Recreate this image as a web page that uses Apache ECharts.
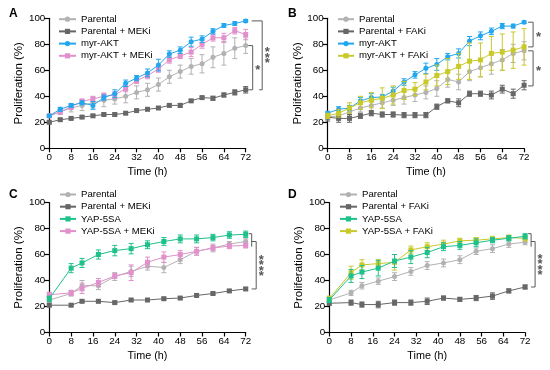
<!DOCTYPE html>
<html><head><meta charset="utf-8">
<script src="https://cdn.jsdelivr.net/npm/echarts@6/dist/echarts.min.js"></script>
<style>html,body{margin:0;padding:0;background:#fff}#c{width:550px;height:370px}</style>
</head><body><div id="c"></div>
<script>
// ---------- data ----------
const timeAB = [0,4,8,12,16,20,24,28,32,36,40,44,48,52,56,60,64,68,72];
const timeCD = [0,8,12,18,24,30,36,42,48,54,60,66,72];
const xTicks = [0,8,16,24,32,40,48,56,64,72];
const yTicks = [0,20,40,60,80,100];

// Panel A
const aParental        = [25,28,31,33,35,37,38,40,43,45,49,55,59,63,65,70,73,77,79];
const aParentalErr     = [1,2,3,4,4,5,4,5,5,5,5,5,5,6,7,8,9,8,6];
const aParentalMEKi    = [20,22,23,24,25,26,26,27,29,30,31,33,33,36.5,39,38.5,41,43,45];
const aParentalMEKiErr = [1,1,1,1,1,1,1,1,1,1,1,1,1.5,1,1,1.5,1.5,2,2.5];
const aMyrAKT          = [25,30,33,35,33,39,42,50,54,58,64,72.5,75.5,82,84,90,94.5,96,98];
const aMyrAKTErr       = [1,1.5,1.5,1.5,3,2,3,2.5,2,3,4.5,2.5,2.5,3.5,2.5,2,1.5,1.5,1];
const aMyrAKTMEKi      = [25,28,32,36,38,40,41,46,52,56,61,68,71,74,80,85,85,90.5,87.5];
const aMyrAKTMEKiErr   = [1,1.5,2,2,2,2.5,2.5,2.5,2,2.5,2.5,2.5,2,3.5,3,2.5,3.5,2.5,4];

// Panel B
const bParental        = [24,25,28,31,33,35,37,39,41,43,46,53,51,59,62,65,68,73,75];
const bParentalErr     = [1.5,2,3,3,4,4,4,5,5,5,6,6,6,7,7,8,8,7,7];
const bParentalFAKi    = [24,23,23,25,27,26,26,25.5,25.5,25.5,32,36.5,35,42,42,41,45.5,42,48.5];
const bParentalFAKiErr = [3,3,3,2,2,2,2,2,2,2,2,1.5,3,2,2,3,3,3.5,3.5];
const bMyrAKT          = [27,30,31,36.5,39,39.5,44,51,56.5,61.5,64.5,70.5,73,82.5,86.5,90,94,94,97];
const bMyrAKTErr       = [1.5,2,2,2.5,3,2,3,2.5,2.5,4,4.5,2.5,3.5,3.5,3,2.5,2,1.5,1];
const bMyrAKTFAKi      = [25,27,31,35,37,38.5,41,44.5,45.5,51,56,59,63,67,68,73,74,75.5,78];
const bMyrAKTFAKiErr   = [2,3,4,5,6,8,7,7,5,6,8,10,10,14,13,13,14,14,14];

// Panel C
const cParental        = [25,30,36,36,43,47,51,50,56,62.5,65,68,70];
const cParentalErr     = [2,2,4,3,3,4,3,4,3,3,3,2,2];
const cParentalMEKi    = [21,21,24,24,23,25,25,26,26.5,28.5,30,32,33.5];
const cParentalMEKiErr = [1,1,1,1,1,1,1,1,1,1,1,1,1];
const cYAP             = [26,49.5,53.5,60,63,64.5,67.5,70,72,72,73,75,75.5];
const cYAPErr          = [2,3.5,3.5,3.5,4,4,3,3,3,3,2.5,2.5,2.5];
const cYAPMEKi         = [29,30.5,34,38.5,43.5,46,54,58,60,62.5,65,66.5,67];
const cYAPMEKiErr      = [2,2,4,3,2,6,4,4,3,3,2,2,2];

// Panel D
const dParental        = [25,30.5,36,39.5,43,47,51.5,53.5,56,62.5,64.5,68,69.5];
const dParentalErr     = [1,2,2.5,2.5,3,3,3,3,3,2.5,3,2.5,2];
const dParentalFAKi    = [22.5,23,21.5,21.5,23,23,24,26.5,25.5,26.5,28,32,35];
const dParentalFAKiErr = [1.5,2,2,2.5,2,2,2.5,1.5,1.5,2,2.5,1.5,1.5];
const dYAP             = [25,43.5,46.5,49.5,55,58,61.5,66,67,69,71,72.5,74];
const dYAPErr          = [2,5,5,6,5,5,4,3,3,3,2,2,2];
const dYAPFAKi         = [26,46,52,53,54,63.5,66,68,70.5,71,72,73,72.5];
const dYAPFAKiErr      = [2,5,4,3,6,3,3,3,2,2,2,2,2];

// significance brackets: [top value, bottom value, label]
const bracketsA = [[79,45,'*'],[98,45,'***']];
const bracketsB = [[97,78,'*'],[75,48,'*']];
const bracketsC = [[76,66,''],[70,33.5,'****']];
const bracketsD = [[76,66,''],[70,35,'****']];

// ---------- styling ----------
const FONT = 'Liberation Sans, Arial, Helvetica, sans-serif';
const COL = {lg:'#b2b2b2', dg:'#676767', blue:'#22a7ee', pink:'#e190cb', green:'#1ec08c', yellow:'#c9c92c'};

const grids = [
  {left:49.3, top:18.3, width:196.4, height:130},
  {left:327.7, top:18.3, width:196.4, height:130},
  {left:49.3, top:202.5, width:196.4, height:130},
  {left:329.3, top:202.5, width:195.8, height:130}
];

const panels = [
  {times: timeAB, brackets: bracketsA,
   bl: [{dx:7, st:4.5, sb:4.5, tdx:5}, {dx:16.5, st:10.5, sb:3, tdx:5}],
   legend: {left:58, top:14.2, itemWidth:17},
   series: [
    {name:'Parental', v:aParental, e:aParentalErr, c:COL.lg, s:'circle'},
    {name:'Parental + MEKi', v:aParentalMEKi, e:aParentalMEKiErr, c:COL.dg, s:'rect'},
    {name:'myr-AKT + MEKi', v:aMyrAKTMEKi, e:aMyrAKTMEKiErr, c:COL.pink, s:'rect'},
    {name:'myr-AKT', v:aMyrAKT, e:aMyrAKTErr, c:COL.blue, s:'circle'}
   ],
   order:['Parental','Parental + MEKi','myr-AKT','myr-AKT + MEKi']},
  {times: timeAB, brackets: bracketsB,
   bl: [{dx:9, st:5, sb:5, tdx:5.5}, {dx:9, st:5, sb:5, tdx:5.5}],
   legend: {left:337, top:14.2, itemWidth:16},
   series: [
    {name:'Parental', v:bParental, e:bParentalErr, c:COL.lg, s:'circle'},
    {name:'Parental + FAKi', v:bParentalFAKi, e:bParentalFAKiErr, c:COL.dg, s:'rect'},
    {name:'myr-AKT', v:bMyrAKT, e:bMyrAKTErr, c:COL.blue, s:'circle'},
    {name:'myr-AKT + FAKi', v:bMyrAKTFAKi, e:bMyrAKTFAKiErr, c:COL.yellow, s:'rect'}
   ],
   order:['Parental','Parental + FAKi','myr-AKT','myr-AKT + FAKi']},
  {times: timeCD, brackets: bracketsC,
   bl: [{dx:6, st:3, sb:0, tdx:0}, {dx:10.5, st:4.5, sb:4.5, tdx:5}],
   legend: {left:59, top:189.5, itemWidth:16},
   series: [
    {name:'Parental', v:cParental, e:cParentalErr, c:COL.lg, s:'circle'},
    {name:'Parental + MEKi', v:cParentalMEKi, e:cParentalMEKiErr, c:COL.dg, s:'rect'},
    {name:'YAP-5SA + MEKi', v:cYAPMEKi, e:cYAPMEKiErr, c:COL.pink, s:'rect'},
    {name:'YAP-5SA', v:cYAP, e:cYAPErr, c:COL.green, s:'rect'}
   ],
   order:['Parental','Parental + MEKi','YAP-5SA','YAP-5SA + MEKi']},
  {times: timeCD, brackets: bracketsD,
   bl: [{dx:6, st:3, sb:0, tdx:0}, {dx:10, st:4, sb:4, tdx:5}],
   legend: {left:339, top:189.5, itemWidth:17},
   series: [
    {name:'Parental', v:dParental, e:dParentalErr, c:COL.lg, s:'circle'},
    {name:'Parental + FAKi', v:dParentalFAKi, e:dParentalFAKiErr, c:COL.dg, s:'rect'},
    {name:'YAP-5SA + FAKi', v:dYAPFAKi, e:dYAPFAKiErr, c:COL.yellow, s:'rect'},
    {name:'YAP-5SA', v:dYAP, e:dYAPErr, c:COL.green, s:'rect'}
   ],
   order:['Parental','Parental + FAKi','YAP-5SA','YAP-5SA + FAKi']}
];

const xAxes = [], yAxes = [], series = [], legends = [];
panels.forEach((p, gi) => {
  xAxes.push({
    gridIndex: gi, type:'value', min:xTicks[0], max:xTicks[xTicks.length-1], interval:xTicks[1]-xTicks[0],
    axisLine:{lineStyle:{color:'#000', width:1.2}},
    axisTick:{length:4, lineStyle:{color:'#000', width:1.2}},
    axisLabel:{fontSize:9.8, color:'#000', margin:4, fontFamily:FONT},
    splitLine:{show:false},
    name:'Time (h)', nameLocation:'middle', nameGap:18,
    nameTextStyle:{fontSize:10.8, color:'#000', fontFamily:FONT}
  });
  yAxes.push({
    gridIndex: gi, type:'value', min:yTicks[0], max:yTicks[yTicks.length-1], interval:yTicks[1]-yTicks[0],
    axisLine:{show:true, lineStyle:{color:'#000', width:1.2}},
    axisTick:{show:true, length:5, lineStyle:{color:'#000', width:1.2}},
    axisLabel:{fontSize:9.8, color:'#000', margin:4, fontFamily:FONT},
    splitLine:{show:false},
    name:'Proliferation (%)', nameLocation:'middle', nameGap:24,
    nameTextStyle:{fontSize:11.5, color:'#000', fontFamily:FONT}
  });
  p.series.forEach((s, si) => {
    const errData = p.times.map((t,i) => [t, s.v[i]-s.e[i], s.v[i]+s.e[i]]);
    series.push({
      type:'custom', xAxisIndex:gi, yAxisIndex:gi, z:2+si*2, silent:true,
      data: errData, encode:{x:0, y:[1,2]},
      renderItem: (params, api) => {
        const x = api.value(0);
        const lo = api.coord([x, api.value(1)]);
        const hi = api.coord([x, api.value(2)]);
        const cw = 2.5;
        const st = {stroke:s.c, lineWidth:1};
        return {type:'group', children:[
          {type:'line', shape:{x1:lo[0], y1:lo[1], x2:hi[0], y2:hi[1]}, style:st},
          {type:'line', shape:{x1:lo[0]-cw, y1:lo[1], x2:lo[0]+cw, y2:lo[1]}, style:st},
          {type:'line', shape:{x1:hi[0]-cw, y1:hi[1], x2:hi[0]+cw, y2:hi[1]}, style:st}
        ]};
      }
    });
    series.push({
      type:'line', name:s.name, xAxisIndex:gi, yAxisIndex:gi, z:3+si*2,
      data: p.times.map((t,i) => [t, s.v[i]]),
      symbol:s.s, symbolSize:5, showSymbol:true,
      lineStyle:{color:s.c, width:1}, itemStyle:{color:s.c},
      emphasis:{disabled:true}, animation:false
    });
  });
  // significance brackets
  series.push({
    type:'custom', xAxisIndex:gi, yAxisIndex:gi, z:20, silent:true, clip:false,
    data: p.brackets.map(b => [xTicks[xTicks.length-1], b[0], b[1]]),
    encode:{x:0, y:[1,2]},
    renderItem: (params, api) => {
      const L = p.bl[params.dataIndex];
      const lab = p.brackets[params.dataIndex][2];
      const t = api.coord([api.value(0), api.value(1)]);
      const b = api.coord([api.value(0), api.value(2)]);
      const x = t[0] + L.dx;
      const pts = [];
      if (L.st) pts.push([x - L.st, t[1]]);
      pts.push([x, t[1]], [x, b[1]]);
      if (L.sb) pts.push([x - L.sb, b[1]]);
      const children = [{type:'polyline', shape:{points:pts}, style:{stroke:'#5a5a5a', lineWidth:1, fill:null}}];
      if (lab) {
        children.push({type:'text', x: x + L.tdx, y:(t[1]+b[1])/2 + 3,
          style:{text: lab.split('').join('\n'), fill:'#555', fontSize:13, fontWeight:'bold',
                 fontFamily:FONT, align:'center', verticalAlign:'middle', lineHeight:5.5}});
      }
      return {type:'group', children};
    }
  });
  legends.push({
    orient:'vertical', left:p.legend.left, top:p.legend.top, padding:0,
    itemWidth:p.legend.itemWidth, itemHeight:6.5, itemGap:2.2, selectedMode:false,
    textStyle:{fontSize:9.6, color:'#000', fontFamily:FONT},
    data:p.order
  });
});

const chart = echarts.init(document.getElementById('c'), null, {renderer:'canvas'});
chart.setOption({
  animation:false,
  backgroundColor:'#fff',
  textStyle:{fontFamily:FONT},
  grid: grids,
  xAxis: xAxes, yAxis: yAxes,
  legend: legends,
  series,
  graphic: [
    {type:'text', left:9, top:8, style:{text:'A', font:'bold 12px ' + FONT, fill:'#000'}},
    {type:'text', left:288, top:8, style:{text:'B', font:'bold 12px ' + FONT, fill:'#000'}},
    {type:'text', left:9, top:189, style:{text:'C', font:'bold 12px ' + FONT, fill:'#000'}},
    {type:'text', left:288, top:189, style:{text:'D', font:'bold 12px ' + FONT, fill:'#000'}}
  ]
});
</script></body></html>
